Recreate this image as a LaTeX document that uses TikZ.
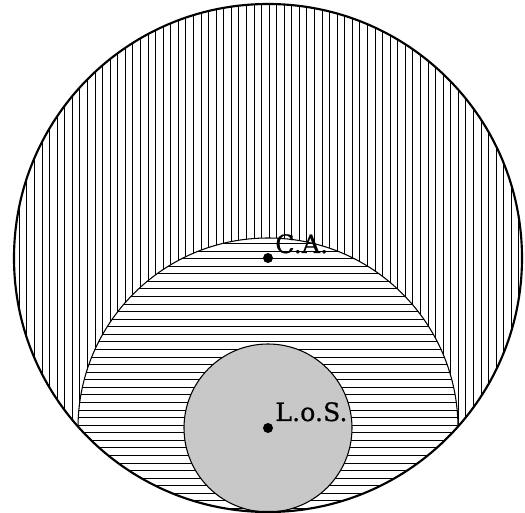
\documentclass[tikz,border=0pt]{standalone}
\usepackage{fontspec}
\newfontfamily\labfont[FakeBold=0.6]{DejaVu Serif}
\definecolor{lgray}{RGB}{200,200,200}
\tikzset{
  hatch/.style={line width=0.75pt, draw=black},
  thinline/.style={line width=0.8pt, draw=black},
  dotnode/.style={circle, fill=black, inner sep=0pt, minimum size=7.5pt},
  lab/.style={inner sep=0pt, anchor=base west, font=\labfont\fontsize{19}{22}\selectfont}
}
\begin{document}
\begin{tikzpicture}[x=0.75pt,y=-0.75pt]
\useasboundingbox (0,0) rectangle (525,513);
\coordinate (C) at (268,258);
\coordinate (L) at (268,428);
% vertical hatching in the big disc
\begin{scope}
  \clip (C) circle[radius=190.5pt];
  \foreach \k in {-32,...,36} {
    \draw[hatch] ({254+7.57*\k},0) -- ({254+7.57*\k},513);
  }
  % horizontally hatched disc
  \fill[white] (L) circle[radius=142.5pt];
  \begin{scope}
    \clip (L) circle[radius=142.5pt];
    \foreach \k in {-20,...,17} {
      \draw[hatch] (0,{387.3+7.57*\k}) -- (525,{387.3+7.57*\k});
    }
  \end{scope}
  \draw[thinline] (L) circle[radius=142.5pt];
\end{scope}
% gray disc
\filldraw[fill=lgray, thinline] (L) circle[radius=63pt];
% big circle outline
\draw[line width=1.6pt, draw=black] (C) circle[radius=190.5pt];
% points and labels
\node[dotnode] (ca) at (C) {};
\node[dotnode] (los) at (L) {};
\node[lab] (calab) at (275,253) {C.A.};
\node[lab] (loslab) at (275,421) {L.o.S.};
\end{tikzpicture}
\end{document}
